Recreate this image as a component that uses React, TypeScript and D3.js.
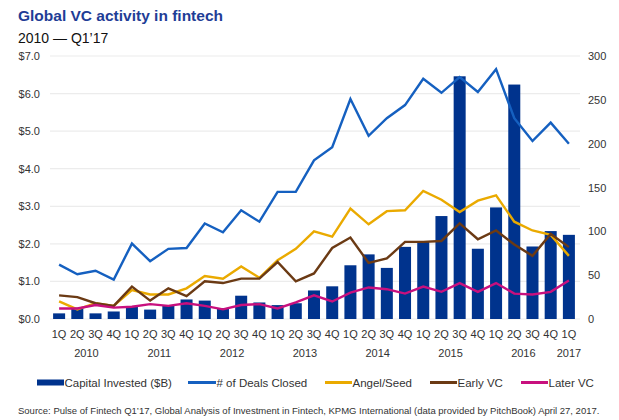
import React from "react";
import * as d3 from "d3";

const quarters = ["1Q","2Q","3Q","4Q","1Q","2Q","3Q","4Q","1Q","2Q","3Q","4Q","1Q","2Q","3Q","4Q","1Q","2Q","3Q","4Q","1Q","2Q","3Q","4Q","1Q","2Q","3Q","4Q","1Q"];
const years = ["2010","2011","2012","2013","2014","2015","2016","2017"];
const yearStartIdx = [0, 4, 8, 12, 16, 20, 24, 28];
const yearEndIdx = [3, 7, 11, 15, 19, 23, 27, 28];

const capitalInvested = [0.15,0.3,0.15,0.2,0.33,0.25,0.37,0.52,0.49,0.29,0.62,0.44,0.37,0.42,0.76,0.87,1.43,1.72,1.36,1.92,2.05,2.74,6.46,1.87,2.97,6.24,1.93,2.34,2.24];
const dealsClosed = [62,51,55,45,86,66,80,81,109,99,124,111,145,145,181,196,251,209,229,244,274,258,276,259,285,229,203,224,200];
const angelSeed = [20,11,18,15,33,28,28,35,49,46,60,47,67,80,100,94,126,108,123,124,146,136,122,135,141,111,101,96,72];
const earlyVC = [27,25,18,15,37,21,35,26,43,41,46,46,65,43,52,81,93,64,69,88,88,89,109,91,101,85,72,97,82];
const laterVC = [12,12,16,13,14,17,15,18,15,11,16,17,12,19,27,20,30,36,34,29,37,31,41,31,41,29,28,31,44];

const leftTicks = [0, 1, 2, 3, 4, 5, 6, 7];
const rightTicks = [0, 50, 100, 150, 200, 250, 300];

const COLORS = {
  bar: "#00338D",
  deals: "#1560C0",
  angel: "#EAAA00",
  early: "#6B3A14",
  later: "#C8107E",
};

const FONT = "Liberation Sans, Arial, sans-serif";

export default function App() {
  const W = 619, H = 420;
  const plotLeft = 50, plotRight = 578, plotTop = 56, plotBottom = 319;
  const idx = quarters.map((_, i) => i);
  const x = d3.scaleBand<number>().domain(idx).range([plotLeft, plotRight]).paddingInner(0.34).paddingOuter(0.17);
  const yL = d3.scaleLinear().domain([0, 7]).range([plotBottom, plotTop]);
  const yR = d3.scaleLinear().domain([0, 300]).range([plotBottom, plotTop]);
  const cx = (i: number) => (x(i) as number) + x.bandwidth() / 2;
  const line = d3.line<number>().x((_, i) => cx(i)).y((d) => yR(d));

  const series = [
    { data: dealsClosed, color: COLORS.deals },
    { data: angelSeed, color: COLORS.angel },
    { data: earlyVC, color: COLORS.early },
    { data: laterVC, color: COLORS.later },
  ];

  const legend = [
    { type: "rect", label: "Capital Invested ($B)", color: COLORS.bar, x0: 37, x1: 64 },
    { type: "line", label: "# of Deals Closed", color: COLORS.deals, x0: 188, x1: 216 },
    { type: "line", label: "Angel/Seed", color: COLORS.angel, x0: 325, x1: 352 },
    { type: "line", label: "Early VC", color: COLORS.early, x0: 430, x1: 457 },
    { type: "line", label: "Later VC", color: COLORS.later, x0: 521, x1: 548 },
  ];

  return (
    <svg width={W} height={H} style={{ position: "absolute", left: 0, top: 0, background: "#fff" }} fontFamily={FONT}>
      <text x={18} y={21} fontSize={15.5} fontWeight="bold" fill="#1F3D96">Global VC activity in fintech</text>
      <text x={18} y={43} fontSize={14} fill="#111">2010 — Q1’17</text>

      {leftTicks.map((t) => (
        <g key={"gl" + t}>
          <line x1={plotLeft} x2={plotRight + 2} y1={yL(t)} y2={yL(t)} stroke="#ECECEC" strokeWidth={1.2} />
          <text x={40} y={yL(t) + 4} fontSize={11} textAnchor="end" fill="#333">{d3.format("$.1f")(t)}</text>
        </g>
      ))}
      {rightTicks.map((t) => (
        <text key={"r" + t} x={588} y={yR(t) + 4} fontSize={11} fill="#333">{t}</text>
      ))}

      {capitalInvested.map((v, i) => (
        <rect key={"b" + i} x={x(i)} y={yL(v)} width={x.bandwidth()} height={yL(0) - yL(v)} fill={COLORS.bar} />
      ))}

      {series.map((s, k) => (
        <path key={"s" + k} d={line(s.data) || ""} fill="none" stroke={s.color} strokeWidth={2.4} strokeLinejoin="miter" />
      ))}

      {quarters.map((q, i) => (
        <text key={"q" + i} x={cx(i)} y={338} fontSize={11} textAnchor="middle" fill="#333">{q}</text>
      ))}
      {years.map((yv, k) => (
        <text key={"y" + k} x={(cx(yearStartIdx[k]) + cx(yearEndIdx[k])) / 2} y={357} fontSize={11} textAnchor="middle" fill="#333">{yv}</text>
      ))}

      {legend.map((l, k) => (
        <g key={"l" + k}>
          {l.type === "rect" ? (
            <rect x={l.x0} y={379.5} width={l.x1 - l.x0} height={6} fill={l.color} />
          ) : (
            <line x1={l.x0} x2={l.x1} y1={382.5} y2={382.5} stroke={l.color} strokeWidth={3} />
          )}
          <text x={l.x1 + 0.5} y={386.5} fontSize={11.5} fill="#333">{l.label}</text>
        </g>
      ))}

      <text x={18} y={414} fontSize={9.5} fill="#333">Source: Pulse of Fintech Q1’17, Global Analysis of Investment in Fintech, KPMG International (data provided by PitchBook) April 27, 2017.</text>
    </svg>
  );
}
